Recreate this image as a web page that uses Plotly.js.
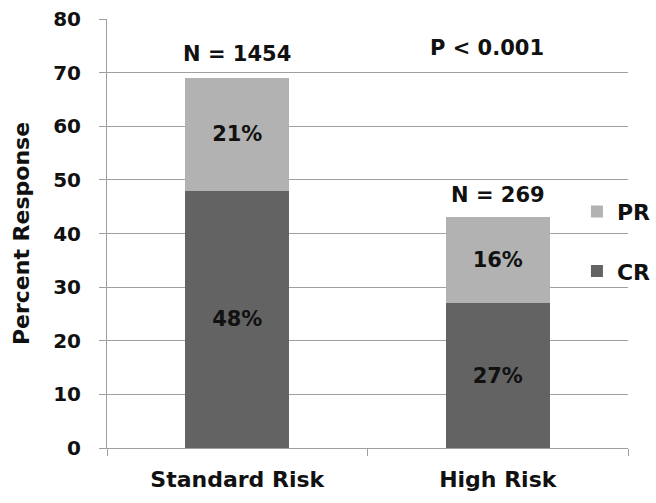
<!DOCTYPE html>
<html>
<head>
<meta charset="utf-8">
<script src="https://cdn.plot.ly/plotly-3.0.1.min.js"></script>
<style>
  html, body { margin: 0; padding: 0; background: #fff; }
  #chart { width: 656px; height: 503px; }
</style>
</head>
<body>
<div id="chart"></div>
<script>
// Risk groups
const groups = ['Standard Risk', 'High Risk'];

// Complete response / partial response (percent)
const crValues = [48, 27];
const prValues = [21, 16];

// Sample size labels above each bar
const nLabels = ['N = 1454', 'N = 269'];
const nLabelY = [73.5, 47.2];

const pLabel = 'P < 0.001';

const boldFont = { family: 'DejaVu Sans, Arial, sans-serif', weight: 'bold', color: '#111' };

const crTrace = {
    x: groups,
    y: crValues,
    type: 'bar',
    name: 'CR',
    legendgroup: 'cr',
    legendrank: 2,
    marker: { color: '#636363' },
    texttemplate: '%{y}%',
    textposition: 'inside',
    insidetextanchor: 'middle',
    textfont: Object.assign({ size: 21 }, boldFont),
    hoverinfo: 'skip'
};

const prTrace = {
    x: groups,
    y: prValues,
    type: 'bar',
    name: 'PR',
    legendgroup: 'pr',
    legendrank: 1,
    marker: { color: '#b2b2b2' },
    texttemplate: '%{y}%',
    textposition: 'inside',
    insidetextanchor: 'middle',
    textfont: Object.assign({ size: 21 }, boldFont),
    hoverinfo: 'skip'
};

// annotations built from the label arrays
const annotations = groups.map((g, i) => ({
    x: g,
    y: nLabelY[i],
    text: nLabels[i],
    showarrow: false,
    font: Object.assign({ size: 21 }, boldFont)
}));
annotations.push({
    x: groups[1],
    y: 74.6,
    xshift: -11,
    text: pLabel,
    showarrow: false,
    font: Object.assign({ size: 21 }, boldFont)
});

const layout = {
    width: 656,
    height: 503,
    margin: { l: 107, r: 28, t: 19, b: 55, autoexpand: false },
    paper_bgcolor: '#fff',
    plot_bgcolor: '#fff',
    barmode: 'stack',
    bargap: 0.6,
    showlegend: true,
    legend: {
        x: 0.902, xanchor: 'left',
        y: 0.6, yanchor: 'top',
        traceorder: 'grouped',
        tracegroupgap: 28,
        font: Object.assign({ size: 22 }, boldFont),
        bgcolor: 'rgba(0,0,0,0)'
    },
    xaxis: {
        type: 'category',
        tickson: 'boundaries',
        ticks: 'outside',
        ticklen: 7,
        tickcolor: '#a0a0a0',
        showline: true,
        linecolor: '#a0a0a0',
        linewidth: 1,
        showgrid: false,
        tickfont: Object.assign({ size: 22 }, boldFont),
        ticklabelstandoff: 12
    },
    yaxis: {
        range: [0, 80],
        dtick: 10,
        ticks: 'outside',
        ticklen: 7,
        tickcolor: '#a0a0a0',
        showline: true,
        linecolor: '#a0a0a0',
        gridcolor: '#a0a0a0',
        zeroline: false,
        tickfont: Object.assign({ size: 20 }, boldFont),
        ticklabelstandoff: 14,
        title: {
            text: 'Percent Response',
            font: Object.assign({ size: 22 }, boldFont),
            standoff: 17
        }
    },
    annotations: annotations
};

Plotly.newPlot('chart', [crTrace, prTrace], layout, { displayModeBar: false, staticPlot: true });
</script>
</body>
</html>
